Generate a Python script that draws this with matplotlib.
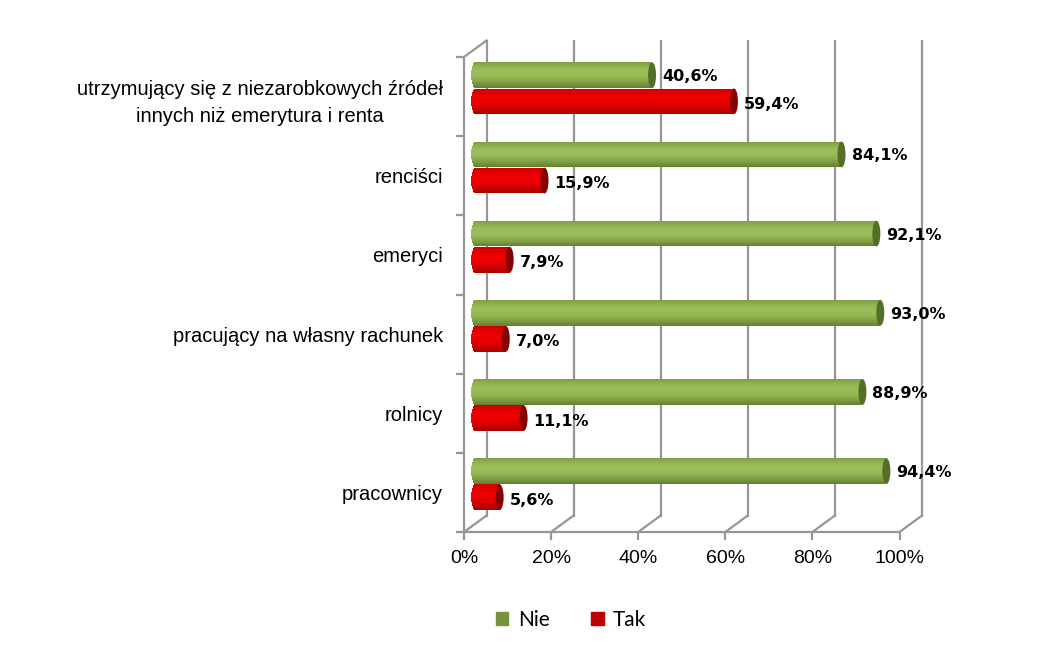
import numpy as np
import matplotlib
matplotlib.use("Agg")
import matplotlib.pyplot as plt
from matplotlib.patches import Ellipse, Patch
from matplotlib.colors import to_rgb

# data, bottom category first
categories = ["pracownicy", "rolnicy", "pracujący na własny rachunek",
              "emeryci", "renciści",
              "utrzymujący się z niezarobkowych źródeł\ninnych niż emerytura i renta"]
nie = [94.4, 88.9, 93.0, 92.1, 84.1, 40.6]
tak = [5.6, 11.1, 7.0, 7.9, 15.9, 59.4]
xticks = [0, 20, 40, 60, 80, 100]
xticklabels = ["0%", "20%", "40%", "60%", "80%", "100%"]

GRID = "#969696"
W, H = 1053, 655
fig = plt.figure(figsize=(W / 100, H / 100), dpi=100)
# front plane of the 3d box in pixels: x 464..899.5, y 57..532
ax = fig.add_axes([464 / W, (H - 532) / H, 435.5 / W, 475 / H])
ax.set_xlim(0, 100)
ax.set_ylim(-0.5, 5.5)

px_x = 435.5 / 100          # pixels per percent
px_y = 475 / 6              # pixels per category
dx, dy = 22.5 / px_x, 16.5 / px_y   # depth offset in data units
bx, by = dx / 2, dy / 2             # bars sit mid depth

# walls / grid
for x in xticks:
    ax.plot([x + dx, x + dx], [-0.5 + dy, 5.5 + dy], color=GRID, lw=1.6,
            clip_on=False, zorder=1)
    ax.plot([x, x + dx], [-0.5, -0.5 + dy], color=GRID, lw=1.6,
            clip_on=False, zorder=1)
ax.plot([0, dx], [5.5, 5.5 + dy], color=GRID, lw=1.6, clip_on=False, zorder=1)

for s in ["top", "right"]:
    ax.spines[s].set_visible(False)
for s in ["left", "bottom"]:
    ax.spines[s].set_color(GRID)
    ax.spines[s].set_linewidth(1.6)

ax.set_xticks(xticks)
ax.set_xticklabels(xticklabels, fontsize=14, family=["Liberation Sans", "DejaVu Sans"])
ax.set_yticks(range(len(categories)))
ax.set_yticklabels(categories, fontsize=14.5, family=["Liberation Sans", "DejaVu Sans"],
                   linespacing=1.55, multialignment="center")
ax.set_yticks(np.arange(-0.5, 6, 1), minor=True)
ax.tick_params(axis="x", length=6, width=1.6, color=GRID, pad=7)
ax.tick_params(axis="y", which="major", length=0, pad=15)
ax.tick_params(axis="y", which="minor", length=6, width=1.6, color=GRID)
ax.patch.set_visible(False)


def shade(light, dark, t):
    # t: 0 top .. 1 bottom, highlight a bit above the middle
    f = np.clip(np.cos((t - 0.4) * np.pi / 1.35), 0, 1) ** 1.2
    lc, dc = np.array(to_rgb(light)), np.array(to_rgb(dark))
    return tuple(dc + (lc - dc) * f)


def cylinder(y, val, light, dark, cap, h=0.325, n=26):
    a = 4.0 / px_x   # half width of end ellipse
    edges = np.linspace(0, 1, n + 1)
    for i in range(n):
        t0, t1 = edges[i], edges[i + 1]
        tm = (t0 + t1) / 2
        r = np.sqrt(max(0.0, 1 - (2 * tm - 1) ** 2))
        c = shade(light, dark, tm)
        top = y + by + h / 2 - t0 * h
        ax.barh(top - h / (2 * n), val + a * r, left=bx - a * r,
                height=h / n * 1.02, color=c, lw=0, zorder=3)
    ax.add_patch(Ellipse((val + bx, y + by), 2 * a, h, facecolor=cap,
                         edgecolor="none", zorder=4))


lab_font = dict(fontsize=11.5, fontweight="bold", family="DejaVu Sans",
                va="center", ha="left", zorder=5)
for i in range(len(categories)):
    yg, yr = i + 0.165, i - 0.165
    cylinder(yg, nie[i], "#9BBD58", "#5B772A", "#556E28")
    cylinder(yr, tak[i], "#EE0000", "#A00000", "#850000")
    gap = (4 + 6) / px_x
    ax.text(nie[i] + bx + gap, yg + by - 1.5 / px_y,
            f"{nie[i]:.1f}%".replace(".", ","), **lab_font)
    ax.text(tak[i] + bx + gap, yr + by - 3 / px_y,
            f"{tak[i]:.1f}%".replace(".", ","), **lab_font)

handles = [Patch(color="#77933C", label="Nie"), Patch(color="#C00000", label="Tak")]
fig.legend(handles=handles, loc="center", bbox_to_anchor=(571 / W, 1 - 620 / H),
           ncol=2, frameon=False, prop=dict(family=["Lato", "DejaVu Sans"], size=15),
           handlelength=0.6, handleheight=0.6, handletextpad=0.45,
           columnspacing=2.0)

fig.savefig("out.png", dpi=100)
